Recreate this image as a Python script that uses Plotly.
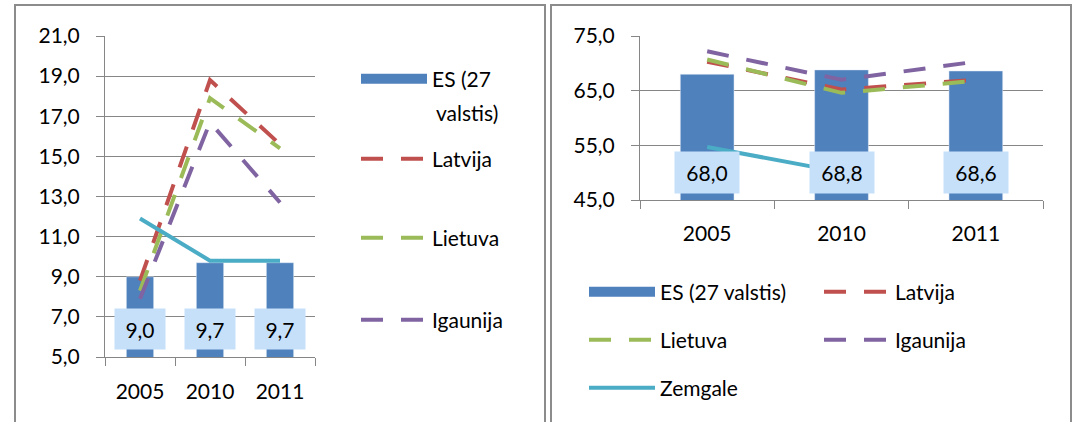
import plotly.graph_objects as gobj

W, H = 1073, 422

years = ["2005", "2010", "2011"]

# kreisais grafiks (bezdarbs, %)
es_left = [9.0, 9.7, 9.7]
latvija_left = [8.8, 18.8, 15.6]
lietuva_left = [8.3, 17.9, 15.4]
igaunija_left = [7.9, 16.7, 12.7]
zemgale_left = [11.9, 9.8, 9.8]

# labais grafiks (nodarbinatiba, %)
es_right = [68.0, 68.8, 68.6]
latvija_right = [70.3, 65.2, 67.0]
lietuva_right = [70.7, 64.6, 66.8]
igaunija_right = [72.2, 67.0, 70.3]
zemgale_right = [54.7, 50.1, None]

left_ticks = [5, 7, 9, 11, 13, 15, 17, 19, 21]
right_ticks = [45, 55, 65, 75]

FONT = "Lato"
FS = 21
BLUE = "#4F81BD"
RED = "#C0504D"
GREEN = "#9BBB59"
PURPLE = "#8064A2"
CYAN = "#4BACC6"
GRID = "#868686"
LABEL_BG = "#C6E0FA"
DASH = "22px,18px"


def px_x(x):
    return x / W


def px_y(y):
    return 1 - y / H


def fmt(v):
    return f"{v:.1f}".replace(".", ",")


fig = gobj.Figure()

series = [
    ("Latvija", RED, DASH),
    ("Lietuva", GREEN, DASH),
    ("Igaunija", PURPLE, DASH),
    ("Zemgale", CYAN, "solid"),
]
left_vals = [latvija_left, lietuva_left, igaunija_left, zemgale_left]
right_vals = [latvija_right, lietuva_right, igaunija_right, zemgale_right]
left_legends = ["legend5", "legend6", "legend7", None]
right_legends = ["legend2", "legend3", "legend3", "legend4"]

# bars
fig.add_bar(x=years, y=es_left, width=0.39, marker_color=BLUE, showlegend=False,
            xaxis="x", yaxis="y")
fig.add_bar(x=years, y=es_right, width=0.40, marker_color=BLUE, showlegend=False,
            xaxis="x2", yaxis="y2")

# legend entries for the bars (wide block like in Excel)
fig.add_scatter(x=[None], y=[None], mode="lines", line=dict(color=BLUE, width=14),
                name="ES (27", legend="legend")
fig.add_scatter(x=[None], y=[None], mode="lines", line=dict(color=BLUE, width=14),
                name="ES (27 valstis)", legend="legend2", xaxis="x2", yaxis="y2")

for (name, color, dash), lv, rv, ll, rl in zip(series, left_vals, right_vals,
                                                left_legends, right_legends):
    fig.add_scatter(x=years, y=lv, mode="lines", name=name,
                    line=dict(color=color, width=4, dash=dash),
                    legend=ll or "legend", showlegend=ll is not None,
                    xaxis="x", yaxis="y")
    fig.add_scatter(x=years, y=rv, mode="lines", name=name,
                    line=dict(color=color, width=4, dash=dash),
                    legend=rl, xaxis="x2", yaxis="y2")

# second line of the left "ES (27 valstis)" legend text
fig.add_annotation(x=px_x(434), y=px_y(112), xref="paper", yref="paper",
                   xanchor="left", yanchor="middle", text="valstis)", showarrow=False,
                   font=dict(family=FONT, size=FS, color="black"))

# data labels
for i, v in enumerate(es_left):
    fig.add_annotation(x=i, y=px_y(329), xref="x", yref="paper",
                       xanchor="center", yanchor="middle",
                       text=fmt(v), showarrow=False,
                       bgcolor=LABEL_BG, width=50, height=40, borderpad=0,
                       font=dict(family=FONT, size=FS, color="black"))
for i, v in enumerate(es_right):
    fig.add_annotation(x=i, y=px_y(172), xref="x2", yref="paper",
                       xanchor="center", yanchor="middle",
                       text=fmt(v), showarrow=False,
                       bgcolor=LABEL_BG, width=64, height=41, borderpad=0,
                       font=dict(family=FONT, size=FS, color="black"))

# panel borders
fig.add_shape(type="rect", xref="paper", yref="paper",
              x0=px_x(15), x1=px_x(545), y0=px_y(440), y1=px_y(5),
              line=dict(color="#8C8C8C", width=2), layer="below")
fig.add_shape(type="rect", xref="paper", yref="paper",
              x0=px_x(551), x1=px_x(1071), y0=px_y(440), y1=px_y(5),
              line=dict(color="#8C8C8C", width=2), layer="below")

axis_common = dict(showline=True, linecolor=GRID, linewidth=1, ticks="outside",
                   ticklen=8, tickcolor=GRID, automargin=False,
                   tickfont=dict(family=FONT, size=FS, color="black"))


def leg(x, y, **kw):
    d = dict(x=px_x(x), y=px_y(y), xanchor="left", yanchor="middle",
             itemwidth=66, bgcolor="rgba(0,0,0,0)", font=dict(family=FONT, size=FS))
    d.update(kw)
    return d


fig.update_layout(
    width=W, height=H,
    margin=dict(l=0, r=0, t=0, b=0, autoexpand=False),
    paper_bgcolor="white", plot_bgcolor="white",
    separators=", ",
    font=dict(family=FONT, size=FS, color="black"),
    xaxis=dict(domain=[px_x(105), px_x(315)], anchor="y", type="category",
               tickson="boundaries", range=[-0.5, 2.5], ticklabelstandoff=16,
               tickangle=0, showgrid=False, **axis_common),
    yaxis=dict(domain=[px_y(357), px_y(36)], anchor="x", range=[5, 21],
               tickvals=left_ticks, tickformat=".1f", showgrid=True, gridcolor=GRID,
               ticklabelstandoff=12, **axis_common),
    xaxis2=dict(domain=[px_x(640), px_x(1043)], anchor="y2", type="category",
                tickson="boundaries", range=[-0.5, 2.5], ticklabelstandoff=15,
                tickangle=0, showgrid=False, **axis_common),
    yaxis2=dict(domain=[px_y(200), px_y(36)], anchor="x2", range=[45, 75],
                tickvals=right_ticks, tickformat=".1f", showgrid=True, gridcolor=GRID,
                ticklabelstandoff=12, **axis_common),
    legend=leg(356, 79),
    legend5=leg(356, 159),
    legend6=leg(356, 238),
    legend7=leg(356, 320),
    legend2=leg(584, 292, orientation="h", entrywidth=154),
    legend3=leg(584, 340, orientation="h", entrywidth=154),
    legend4=leg(584, 388, orientation="h", entrywidth=154),
)

# no page margin, so the figure sits at the top-left corner of the window
fig.write_html("out.html", config={"displayModeBar": False},
               post_script="document.body.style.margin = '0';")
